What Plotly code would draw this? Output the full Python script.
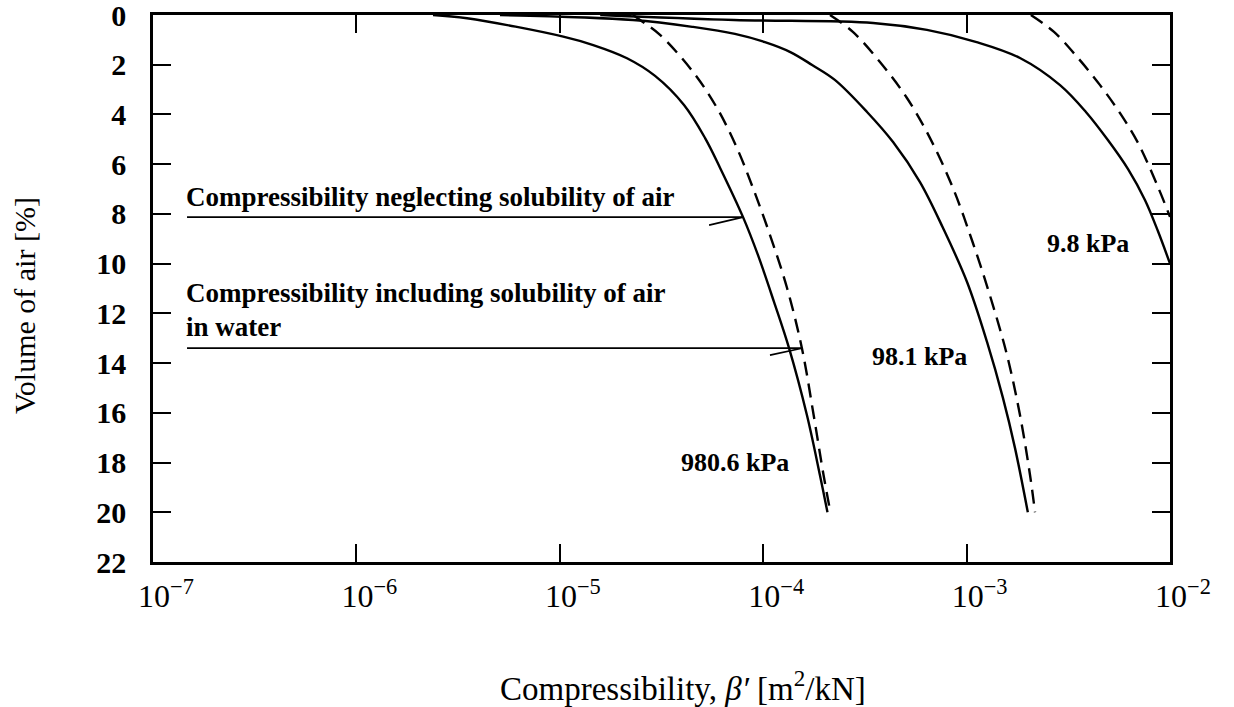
import numpy as np
import plotly.graph_objects as go

# Compressibility beta' [m2/kN] against volume of air [%] for three pressures.
# Solid: solubility of air neglected; dashed: solubility of air in water included.
vol_980_solid = [0, 0.13, 0.87, 1.21, 1.74, 2.45, 3.62, 4.95, 6.15, 8.13, 9.65, 11.54,
                 13.4, 16.09, 18.5, 20]
beta_980_solid = [2.38e-6, 3.50e-6, 1.04e-5, 1.46e-5, 2.14e-5, 2.94e-5, 4.08e-5, 5.18e-5,
                  6.14e-5, 7.96e-5, 9.42e-5, 1.13e-4, 1.34e-4, 1.64e-4, 1.90e-4, 2.07e-4]
vol_980_dash = [0, 0.2, 0.8, 2.29, 3.74, 5.35, 6.96, 8.85, 10.98, 13.4, 16.09, 18.5, 20]
beta_980_dash = [2.29e-5, 2.48e-5, 3.11e-5, 4.52e-5, 5.93e-5, 7.43e-5, 8.91e-5, 1.08e-4,
                 1.31e-4, 1.55e-4, 1.77e-4, 1.98e-4, 2.14e-4]

vol_98_solid = [0, 0.2, 0.48, 0.76, 1.09, 1.49, 2.01, 2.61, 3.9, 5.11, 6.72, 8.57, 10.74,
                13.15, 15.41, 17.42, 20]
beta_98_solid = [5.08e-6, 2.29e-5, 4.52e-5, 7.26e-5, 1.02e-4, 1.36e-4, 1.74e-4, 2.25e-4,
                 3.24e-4, 4.35e-4, 5.90e-4, 7.66e-4, 1.005e-3, 1.26e-3, 1.51e-3, 1.73e-3,
                 2.0e-3]
vol_98_dash = [0, 0.68, 1.89, 3.34, 4.95, 6.96, 9.13, 11.26, 13.68, 16.09, 18.5, 20]
beta_98_dash = [2.13e-4, 2.76e-4, 3.75e-4, 5.09e-4, 6.61e-4, 8.57e-4, 1.07e-3, 1.30e-3,
                1.58e-3, 1.83e-3, 2.05e-3, 2.17e-3]

vol_9_solid = [0, 0.2, 0.32, 0.6, 1.09, 1.73, 2.82, 3.9, 5.03, 6.2, 7.44, 8.7, 10.0]
beta_9_solid = [1.58e-5, 7.18e-5, 3.47e-4, 6.38e-4, 1.12e-3, 1.83e-3, 2.88e-3, 3.86e-3,
                4.95e-3, 6.22e-3, 7.53e-3, 8.73e-3, 1.0e-2]
vol_9_dash = [0, 0.68, 1.73, 2.82, 3.94, 5.15, 6.92, 8.12]
beta_9_dash = [2.07e-3, 2.69e-3, 3.53e-3, 4.53e-3, 5.67e-3, 6.97e-3, 8.73e-3, 1.0e-2]

pressure_labels = ["980.6 kPa", "98.1 kPa", "9.8 kPa"]
pressure_label_beta = [7.3e-5, 5.9e-4, 3.95e-3]
pressure_label_vol = [18.0, 13.75, 9.2]

# Pointer lines for the two explanatory notes
arrow1_beta = [1.47e-7, 7.96e-5]
arrow1_vol = [8.13, 8.13]
barb1_beta = [5.42e-5, 7.96e-5]
barb1_vol = [8.45, 8.13]
arrow2_beta = [1.47e-7, 1.55e-4]
arrow2_vol = [13.4, 13.4]
barb2_beta = [1.08e-4, 1.55e-4]
barb2_vol = [13.68, 13.4]

x_tickvals = [1e-7, 1e-6, 1e-5, 1e-4, 1e-3, 1e-2]
x_ticktext = ["10<sup>\u22127</sup>", "10<sup>\u22126</sup>", "10<sup>\u22125</sup>",
              "10<sup>\u22124</sup>", "10<sup>\u22123</sup>", "10<sup>\u22122</sup>"]
y_tickvals = list(range(0, 24, 2))

SERIF = "Liberation Serif"
INK = "black"
DASH = "14px,8px"

fig = go.Figure()

curves = [
    (beta_980_solid, vol_980_solid, "solid"),
    (beta_980_dash, vol_980_dash, DASH),
    (beta_98_solid, vol_98_solid, "solid"),
    (beta_98_dash, vol_98_dash, DASH),
    (beta_9_solid, vol_9_solid, "solid"),
    (beta_9_dash, vol_9_dash, DASH),
]
for bx, vy, dash in curves:
    fig.add_trace(go.Scatter(
        x=bx, y=vy, mode="lines",
        line=dict(color=INK, width=2.4, dash=dash, shape="spline", smoothing=1.0),
        hoverinfo="skip", showlegend=False, cliponaxis=False,
    ))

for bx, vy in [(arrow1_beta, arrow1_vol), (barb1_beta, barb1_vol),
               (arrow2_beta, arrow2_vol), (barb2_beta, barb2_vol)]:
    fig.add_trace(go.Scatter(
        x=bx, y=vy, mode="lines", line=dict(color=INK, width=1.6),
        hoverinfo="skip", showlegend=False,
    ))

annotations = []
for txt, bx, vy in zip(pressure_labels, pressure_label_beta, pressure_label_vol):
    annotations.append(dict(
        x=np.log10(bx), y=vy, xref="x", yref="y", text=txt, showarrow=False,
        font=dict(family=SERIF, size=26, color=INK, weight="bold"),
        xanchor="center", yanchor="middle",
    ))

def paper_x(px):
    return (px - 153) / 1017

def paper_y(py):
    return (562 - py) / 547

note_font = dict(family=SERIF, size=27, color=INK, weight="bold")
for txt, px, py in [
    ("Compressibility neglecting solubility of air", 184, 197),
    ("Compressibility including solubility of air", 184, 293),
    ("in water", 184, 327),
]:
    annotations.append(dict(
        x=paper_x(px), y=paper_y(py), xref="paper", yref="paper", text=txt,
        showarrow=False, font=note_font, xanchor="left", yanchor="middle",
    ))

annotations.append(dict(
    x=paper_x(683), y=paper_y(686), xref="paper", yref="paper",
    text="Compressibility, <i>\u03b2\u2032</i> [m<sup>2</sup>/kN]",
    showarrow=False, font=dict(family=SERIF, size=33, color=INK),
    xanchor="center", yanchor="middle",
))
annotations.append(dict(
    x=paper_x(25), y=paper_y(306), xref="paper", yref="paper",
    text="Volume of air [%]", textangle=-90,
    showarrow=False, font=dict(family=SERIF, size=30, color=INK),
    xanchor="center", yanchor="middle",
))

fig.update_layout(
    width=1234, height=707,
    margin=dict(l=153, r=64, t=15, b=145),
    paper_bgcolor="white", plot_bgcolor="white",
    annotations=annotations,
    xaxis=dict(
        type="log", range=[-7, -2], automargin=False,
        tickmode="array", tickvals=x_tickvals, ticktext=x_ticktext,
        ticks="inside", ticklen=18, tickwidth=1.6, tickcolor=INK,
        showline=True, linewidth=2.6, linecolor=INK, mirror="allticks",
        showgrid=False, zeroline=False,
        tickfont=dict(family=SERIF, size=32, color=INK),
        ticklabelshift=13, ticklabelstandoff=4, ticklabeloverflow="allow",
    ),
    yaxis=dict(
        range=[22, 0], automargin=False,
        tickmode="array", tickvals=y_tickvals,
        ticks="inside", ticklen=18, tickwidth=1.6, tickcolor=INK,
        showline=True, linewidth=2.6, linecolor=INK, mirror="allticks",
        showgrid=False, zeroline=False,
        tickfont=dict(family=SERIF, size=30, color=INK, weight="bold"),
        ticklabelstandoff=18, ticklabeloverflow="allow",
    ),
)

fig.write_html("out.html")
